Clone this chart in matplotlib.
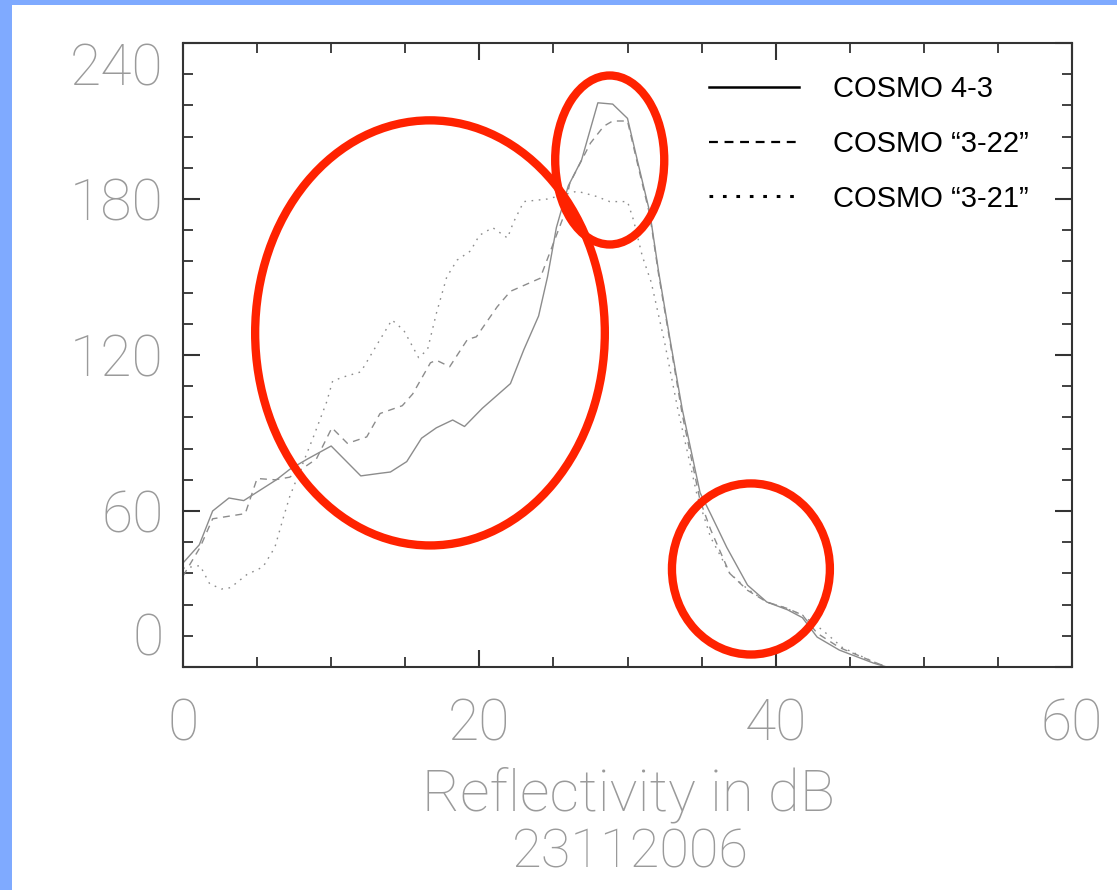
import matplotlib
matplotlib.use("Agg")
import matplotlib.pyplot as plt
from matplotlib.patches import Ellipse, Rectangle
from matplotlib.lines import Line2D
from matplotlib.ticker import MultipleLocator

# ---- data ----
solid_x = [0, 1.1, 2.0, 3.1, 4.1, 5.2, 6.3, 7.2, 8.4, 10.0, 12.0, 13.3, 14.0, 15.1, 16.1,
           17.1, 18.2, 19.0, 20.2, 22.1, 23.0, 24.0, 24.6, 25.2, 26.0, 26.9, 28.0, 29.0,
           30.0, 30.7, 31.5, 32.1, 32.9, 33.7, 34.9, 35.6, 36.7, 38.1, 39.4, 40.8, 41.8,
           42.8, 44.3, 46.6, 47.5]
solid_y = [40, 47, 60, 65, 64, 68, 72, 76, 80, 85, 73.5, 74.5, 75, 79, 88,
           92, 95, 92.5, 99.5, 109, 122, 135, 150, 169, 185, 195, 217, 216.5,
           211, 194, 175, 152, 125, 99, 67, 59, 46, 31.5, 25, 22, 19,
           11.5, 6.5, 1.5, 0]

dash_x = [0, 1.15, 2.0, 3.1, 4.2, 5.0, 6.2, 7.2, 9.0, 10.05, 11.1, 12.4, 13.3, 14.8, 15.5,
          16.7, 17.1, 18.0, 19.2, 19.8, 21.2, 22.1, 23.1, 24.1, 24.9, 25.6, 26.1, 27.5,
          28.4, 29.0, 30.0, 30.7, 31.5, 32.1, 32.9, 33.7, 34.9, 35.6, 36.9, 38.1, 39.4,
          40.8, 41.8, 42.8, 44.3, 46.6, 47.5]
dash_y = [35, 46, 57, 58, 59, 72.5, 72, 73, 80, 92, 86, 88.5, 97.5, 100.5, 105,
          117, 118, 115.5, 126, 127, 138.5, 144.5, 147, 149.5, 161.5, 172, 186, 201.5,
          208, 210, 210, 193, 174, 151, 124, 97, 64, 53, 36, 29.5, 25,
          22.5, 20, 13, 7.5, 2, 0]

dot_x = [0, 1.15, 1.8, 2.6, 3.2, 4.3, 5.4, 6.2, 6.75, 7.2, 8.0, 8.8, 9.7, 10.1, 10.8,
         12.0, 13.2, 14.1, 14.9, 15.9, 16.5, 17.1, 17.8, 18.5, 19.4, 20.0, 20.9, 21.9,
         22.3, 23.0, 24.6, 26.6, 27.9, 28.8, 30.0, 30.4, 31.0, 31.6, 32.5, 33.4, 34.7,
         35.6, 36.9, 38.1, 39.4, 40.5, 41.8, 43.2, 44.5, 46.6, 47.5]
dot_y = [38, 39, 32, 30, 30.5, 35.5, 38.5, 46, 57, 65.5, 77, 88.5, 102, 110, 111.5,
         113.5, 125, 133.5, 129.5, 119, 122, 136, 150, 156.5, 160, 166, 169, 165,
         171, 179, 180, 183, 181, 179, 179, 172, 158, 148, 125, 99, 66,
         50, 36, 30, 25, 23, 20, 14, 7.5, 2, 0]

labels = ["COSMO 4-3", "COSMO \u201c3-22\u201d", "COSMO \u201c3-21\u201d"]
x_ticks = [0, 20, 40, 60]
y_ticks = [0, 60, 120, 180, 240]
x_label = "Reflectivity in dB"
date_label = "23112006"

# ---- figure ----
W, H, DPI = 1117, 890, 100
fig = plt.figure(figsize=(W / DPI, H / DPI), dpi=DPI, facecolor="#7FAAFF")
fig.patches.append(Rectangle((12 / W, 0), 1, 1 - 5 / H, transform=fig.transFigure,
                             facecolor="white", edgecolor="none", zorder=-10))

ax = fig.add_axes([183 / W, 1 - 667 / H, (1072 - 183) / W, (667 - 43) / H])
ax.set_facecolor("white")

gray = "#8c8c8c"
ax.plot(solid_x, solid_y, color=gray, lw=1.0, ls="-")
ax.plot(dash_x, dash_y, color=gray, lw=1.0, ls=(0, (5, 4)))
ax.plot(dot_x, dot_y, color=gray, lw=1.0, ls=(0, (1.2, 4)))

ax.set_xlim(0, 60)
ax.set_ylim(0, 240)
ax.set_xticks(x_ticks)
ax.set_yticks(y_ticks)
ax.xaxis.set_minor_locator(MultipleLocator(5))
ax.yaxis.set_minor_locator(MultipleLocator(12))

for s in ax.spines.values():
    s.set_color("#333333")
    s.set_linewidth(1.5)

tick_font = dict(family=["Roboto", "DejaVu Sans"], weight="light", size=41, color="#9a9a9a")
ax.tick_params(which="both", direction="in", top=True, right=True, color="#333333")
ax.tick_params(which="major", length=12, width=1.5)
ax.tick_params(which="minor", length=7, width=1.3)
ax.tick_params(axis="x", which="major", pad=22)
ax.tick_params(axis="y", which="major", pad=14)
ax.set_xticklabels([str(v) for v in x_ticks], fontdict=tick_font)
ax.set_yticklabels([str(v) for v in y_ticks], fontdict=tick_font)
yt = ax.yaxis.get_major_ticks()
yt[0].label1.set_va("bottom")
yt[-1].label1.set_va("top")

lab_font = dict(tick_font, size=42)
date_font = dict(tick_font, size=39)
fig.text(628 / W, 1 - 795 / H, x_label, ha="center", va="center", fontdict=lab_font)
fig.text(630 / W, 1 - 853 / H, date_label, ha="center", va="center", fontdict=date_font)

# legend
handles = [
    Line2D([], [], color="black", lw=1.8, ls="-"),
    Line2D([], [], color="black", lw=1.6, ls=(0, (4, 3))),
    Line2D([], [], color="black", lw=2.2, ls=(0, (1.2, 3.2))),
]
leg = ax.legend(handles, labels, loc="upper left",
                bbox_to_anchor=((709 - 183) / 889, (667 - 75) / 624),
                frameon=False, borderaxespad=0, borderpad=0,
                handlelength=3.1, handletextpad=1.15, labelspacing=0.92,
                prop=dict(family=["Liberation Sans", "DejaVu Sans"], size=21))

# red annotation ellipses
red = "#FF2200"
for (cx, cy, w, h) in [(16.67, 128.5, 23.6, 163.5), (28.8, 195, 7.36, 65), (38.33, 37.7, 10.66, 65.8)]:
    ax.add_patch(Ellipse((cx, cy), w, h, fill=False, edgecolor=red, lw=6, clip_on=False, zorder=5))

fig.savefig("out.png", dpi=DPI, facecolor=fig.get_facecolor())
